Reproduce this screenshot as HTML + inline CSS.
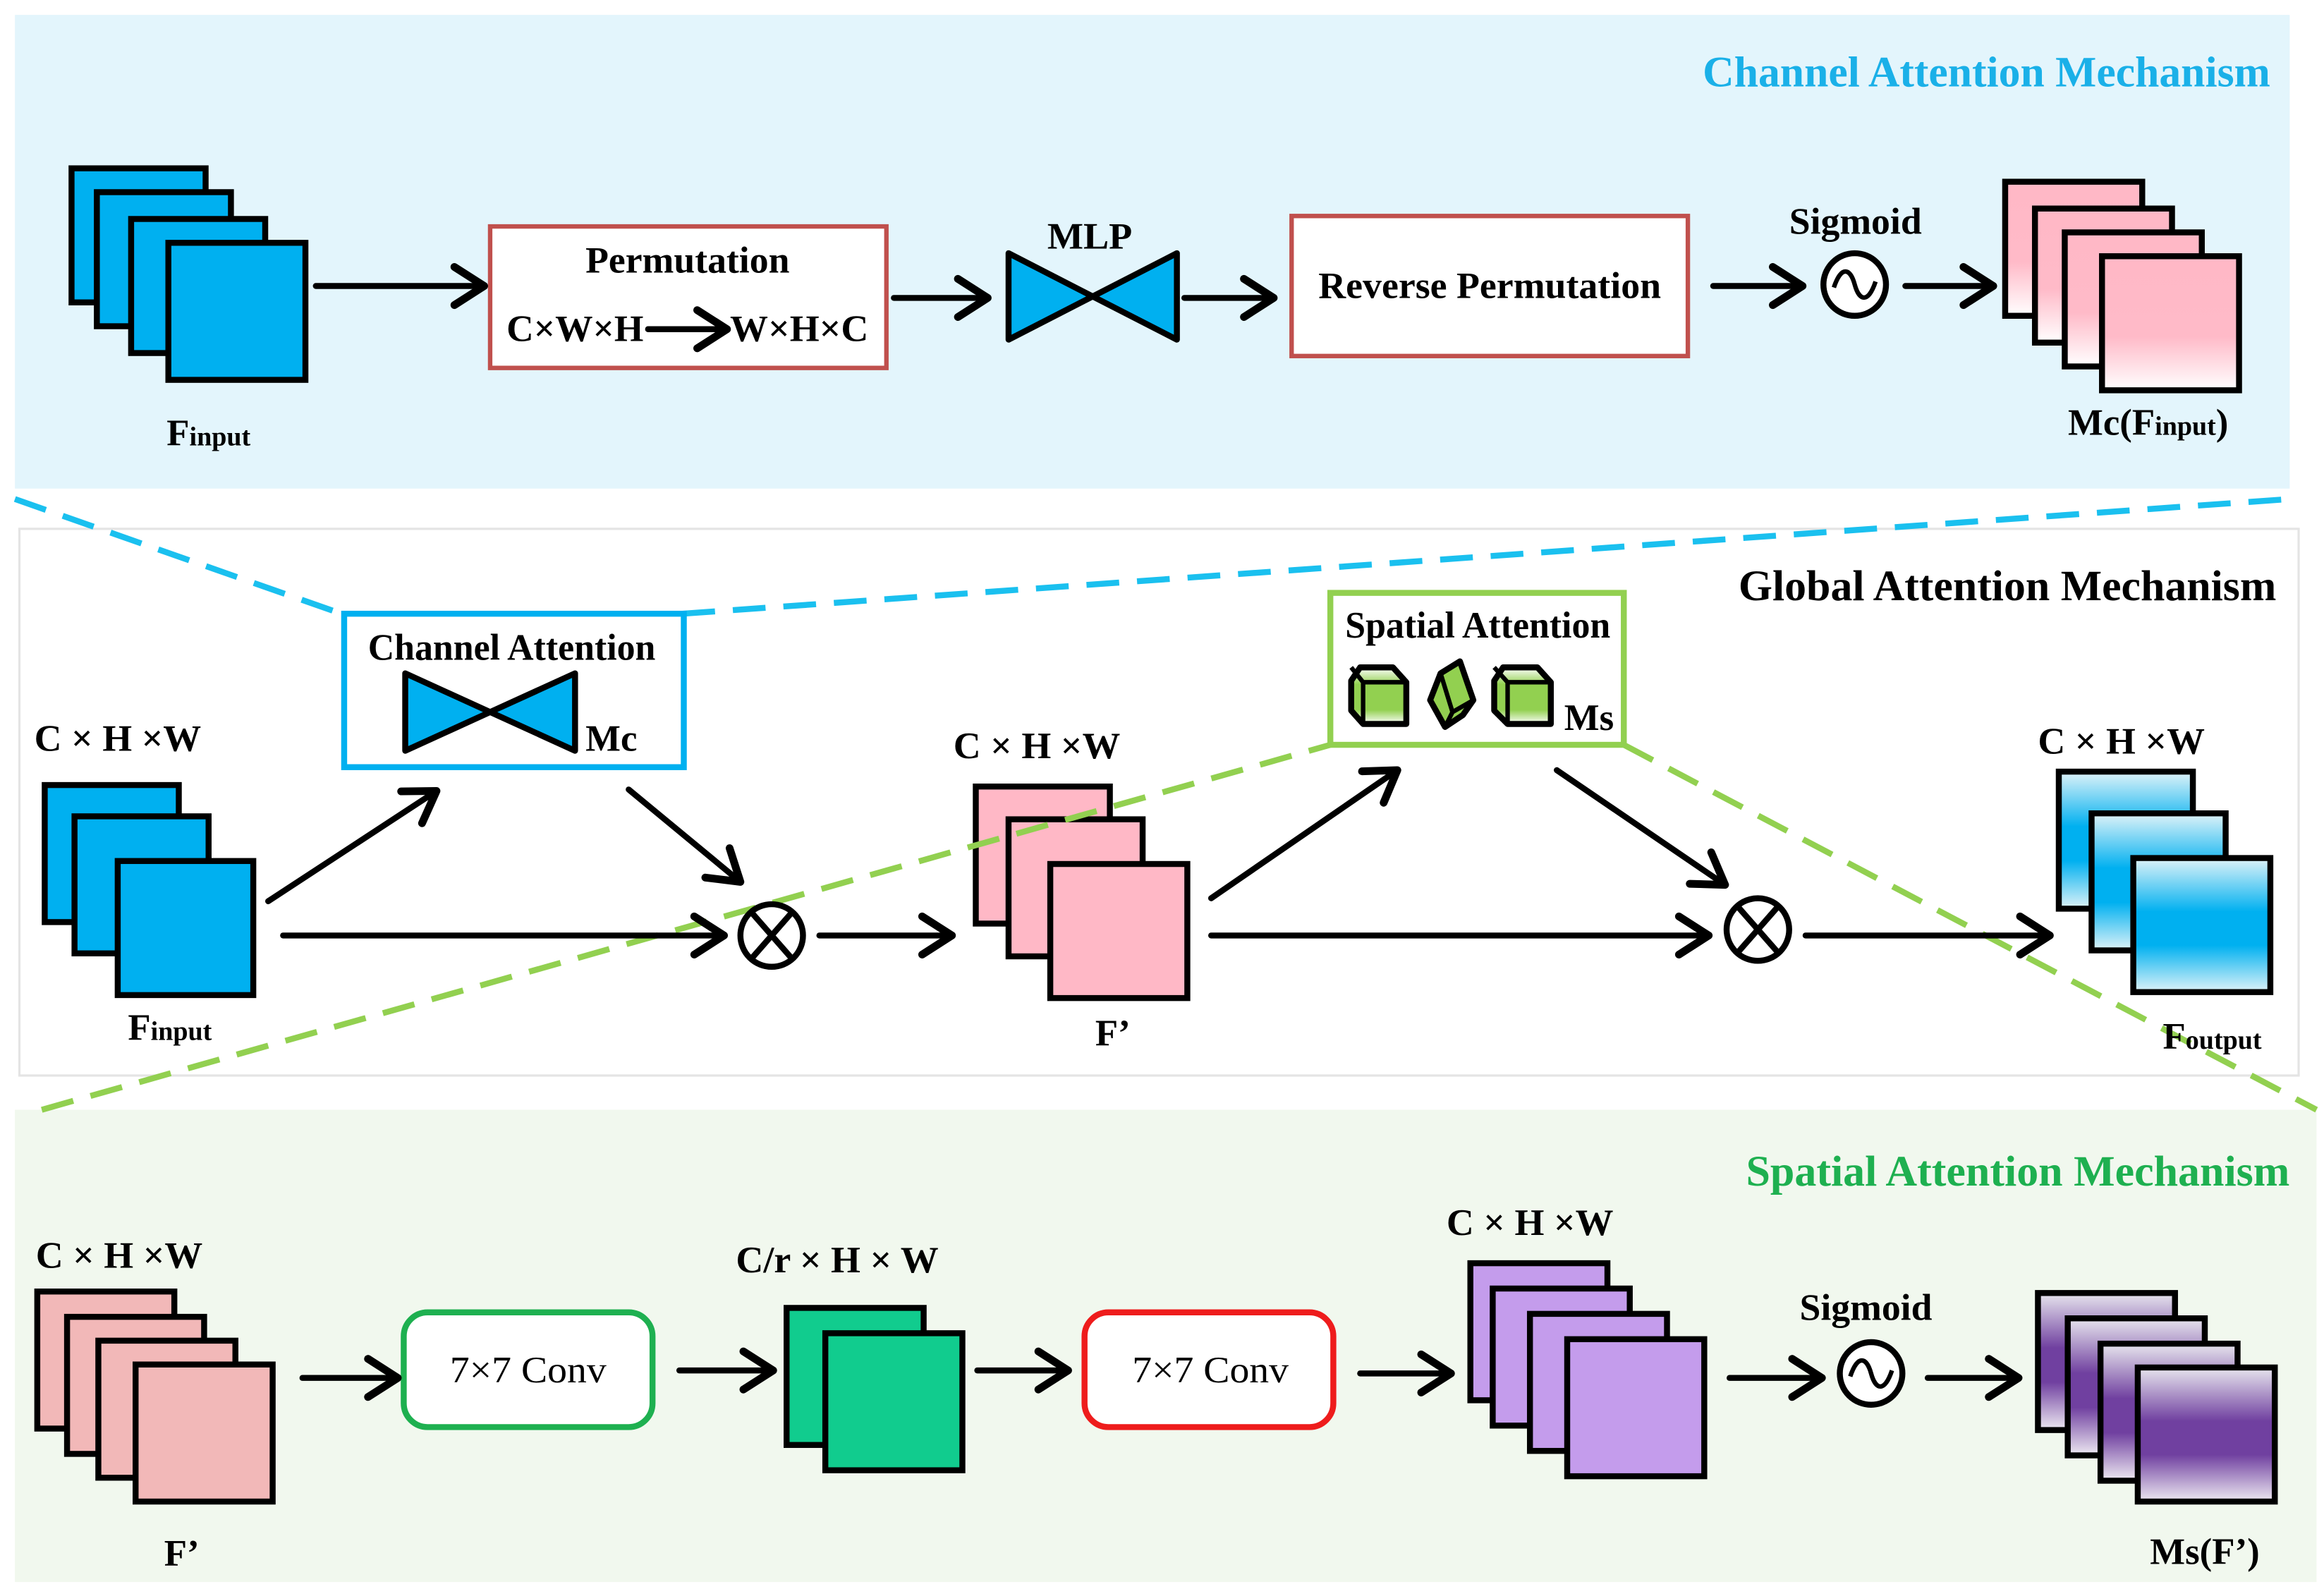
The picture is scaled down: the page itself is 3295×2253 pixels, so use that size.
<!DOCTYPE html>
<html><head><meta charset="utf-8"><style>html,body{margin:0;padding:0;background:#fff}svg{display:block}text{font-family:"Liberation Serif",serif;font-weight:bold;fill:#000}</style></head><body>
<svg width="3295" height="2253" viewBox="0 0 1560 1066.7" xmlns="http://www.w3.org/2000/svg">
<defs>
<marker id="ah" markerWidth="8" markerHeight="8" refX="6" refY="4" orient="auto" markerUnits="strokeWidth"><path d="M1,0.8 L6,4 L1,7.2" fill="none" stroke="#000" stroke-width="1.3" stroke-linecap="round" stroke-linejoin="round"/></marker>
<linearGradient id="pk" x1="0" y1="0" x2="0" y2="1"><stop offset="0" stop-color="#ffb8c6"/><stop offset="0.6" stop-color="#ffbac8"/><stop offset="1" stop-color="#fff"/></linearGradient>
<linearGradient id="bl" x1="0" y1="0" x2="0" y2="1"><stop offset="0" stop-color="#e0f3f8"/><stop offset="0.4" stop-color="#00b0f0"/><stop offset="0.65" stop-color="#00b0f0"/><stop offset="1" stop-color="#e0f3f8"/></linearGradient>
<linearGradient id="pu" x1="0" y1="0" x2="0" y2="1"><stop offset="0" stop-color="#e8e6ee"/><stop offset="0.4" stop-color="#7040a0"/><stop offset="0.65" stop-color="#7040a0"/><stop offset="1" stop-color="#eeeaf2"/></linearGradient>
<linearGradient id="gr" x1="0" y1="0" x2="0" y2="1"><stop offset="0" stop-color="#fff"/><stop offset="0.3" stop-color="#92d050"/><stop offset="0.75" stop-color="#92d050"/><stop offset="1" stop-color="#fff"/></linearGradient>
</defs>
<rect x="10" y="10" width="1527" height="318" fill="#e3f5fc"/>
<rect x="13" y="355" width="1530" height="367" fill="#fff" stroke="#e4e4e4" stroke-width="1.5"/>
<rect x="10" y="745" width="1545" height="317" fill="#f1f8ee"/>
<text x="1143" y="58" font-size="29" textLength="381" lengthAdjust="spacingAndGlyphs" style="fill:#1ab0e8">Channel Attention Mechanism</text>
<text x="1167" y="403" font-size="29" textLength="361" lengthAdjust="spacingAndGlyphs">Global Attention Mechanism</text>
<text x="1172" y="796" font-size="29" textLength="365" lengthAdjust="spacingAndGlyphs" style="fill:#1eb050">Spatial Attention Mechanism</text>

<g stroke="#000" stroke-width="4">
<rect x="48" y="113" width="90" height="90" fill="#00b0f0"/>
<rect x="65" y="129" width="90" height="90" fill="#00b0f0"/>
<rect x="88" y="147" width="90" height="90" fill="#00b0f0"/>
<rect x="113" y="163" width="92" height="92" fill="#00b0f0"/>
<rect x="1346" y="122" width="92" height="90" fill="url(#pk)"/>
<rect x="1366" y="140" width="92" height="90" fill="url(#pk)"/>
<rect x="1386" y="156" width="92" height="90" fill="url(#pk)"/>
<rect x="1411" y="172" width="92" height="90" fill="url(#pk)"/>
<rect x="30" y="527" width="90" height="92" fill="#00b0f0"/>
<rect x="50" y="548" width="90" height="92" fill="#00b0f0"/>
<rect x="79" y="578" width="91" height="90" fill="#00b0f0"/>
<rect x="655" y="528" width="90" height="92" fill="#ffb8c6"/>
<rect x="677" y="550" width="90" height="92" fill="#ffb8c6"/>
<rect x="705" y="580" width="92" height="90" fill="#ffb8c6"/>
<rect x="1382" y="518" width="90" height="92" fill="url(#bl)"/>
<rect x="1404" y="546" width="90" height="92" fill="url(#bl)"/>
<rect x="1432" y="576" width="92" height="90" fill="url(#bl)"/>
<rect x="25" y="867" width="92" height="92" fill="#f2b8b8"/>
<rect x="45" y="884" width="92" height="92" fill="#f2b8b8"/>
<rect x="66" y="900" width="92" height="92" fill="#f2b8b8"/>
<rect x="91" y="916" width="92" height="92" fill="#f2b8b8"/>
<rect x="528" y="878" width="92" height="92" fill="#11cc8e"/>
<rect x="554" y="895" width="92" height="92" fill="#11cc8e"/>
<rect x="987" y="848" width="92" height="92" fill="#c49cec"/>
<rect x="1002" y="865" width="92" height="92" fill="#c49cec"/>
<rect x="1027" y="882" width="92" height="92" fill="#c49cec"/>
<rect x="1052" y="899" width="92" height="92" fill="#c49cec"/>
<rect x="1368" y="868" width="92" height="92" fill="url(#pu)"/>
<rect x="1388" y="885" width="92" height="92" fill="url(#pu)"/>
<rect x="1410" y="902" width="92" height="92" fill="url(#pu)"/>
<rect x="1435" y="918" width="92" height="90" fill="url(#pu)"/>
</g>

<rect x="329" y="152" width="266" height="95" fill="#fff" stroke="#c0504d" stroke-width="3"/>
<text x="393" y="183" font-size="25" textLength="137" lengthAdjust="spacingAndGlyphs">Permutation</text>
<text x="340" y="229" font-size="25" textLength="92" lengthAdjust="spacingAndGlyphs">C×W×H</text>
<text x="490" y="229" font-size="25" textLength="93" lengthAdjust="spacingAndGlyphs">W×H×C</text>
<rect x="867" y="145" width="266" height="94" fill="#fff" stroke="#c0504d" stroke-width="3"/>
<text x="885" y="200" font-size="25" textLength="230" lengthAdjust="spacingAndGlyphs">Reverse Permutation</text>
<text x="703" y="167" font-size="25" textLength="57" lengthAdjust="spacingAndGlyphs">MLP</text>
<path d="M677,170 L677,228 L790,170 L790,228 Z" fill="#00b0f0" stroke="#000" stroke-width="4" stroke-linejoin="round"/>
<text x="1201" y="157" font-size="25" textLength="89" lengthAdjust="spacingAndGlyphs">Sigmoid</text>
<circle cx="1245" cy="191" r="21" fill="#fff" stroke="#000" stroke-width="4"/>
<path d="M1231,193 C1236,178 1242,180 1245,191 C1248,202 1254,204 1259,189" fill="none" stroke="#000" stroke-width="3"/>
<text x="140" y="299" font-size="25" text-anchor="middle">F<tspan font-size="18">input</tspan></text>
<text x="1442" y="292" font-size="25" text-anchor="middle">Mc(F<tspan font-size="18">input</tspan>)</text>

<g fill="none" stroke-width="4" stroke-dasharray="22,12">
<path d="M10,335 L232,413" stroke="#1ac0ef"/>
<path d="M458,412 L1537,335" stroke="#1ac0ef"/>
<path d="M28,745 L893,500" stroke="#92d050"/>
<path d="M1090,500 L1555,745" stroke="#92d050"/>
</g>

<rect x="231" y="412" width="228" height="103" fill="#fff" stroke="#00b0f0" stroke-width="4"/>
<text x="247" y="443" font-size="25" textLength="193" lengthAdjust="spacingAndGlyphs">Channel Attention</text>
<path d="M272,452 L272,504 L386,452 L386,504 Z" fill="#00b0f0" stroke="#000" stroke-width="4" stroke-linejoin="round"/>
<text x="393" y="504" font-size="25">Mc</text>
<rect x="893" y="398" width="197" height="102" fill="#fff" stroke="#92d050" stroke-width="4"/>
<text x="903" y="428" font-size="25" textLength="178" lengthAdjust="spacingAndGlyphs">Spatial Attention</text>
<g stroke="#000" stroke-width="4" stroke-linejoin="round">
<path d="M907,457 L913,448 L935,448 L944,458 L944,486 L915,486 L907,477 Z" fill="url(#gr)"/>
<path d="M915,458 L944,458 M915,458 L907,448 M915,458 L915,486" fill="none" stroke-width="3"/>
<path d="M960,470 L967,452 L980,444 L989,470 L982,480 L970,488 Z" fill="#92d050"/>
<path d="M967,452 L975,478 L989,470 M975,478 L970,488" fill="none" stroke-width="3"/>
<path d="M1003,457 L1009,448 L1032,448 L1041,458 L1041,486 L1012,486 L1003,477 Z" fill="url(#gr)"/>
<path d="M1012,458 L1041,458 M1012,458 L1003,448 M1012,458 L1012,486" fill="none" stroke-width="3"/>
</g>
<text x="1050" y="490" font-size="25">Ms</text>
<text x="23" y="504" font-size="25" textLength="112" lengthAdjust="spacingAndGlyphs">C × H ×W</text>
<text x="640" y="509" font-size="25" textLength="112" lengthAdjust="spacingAndGlyphs">C × H ×W</text>
<text x="1368" y="506" font-size="25" textLength="112" lengthAdjust="spacingAndGlyphs">C × H ×W</text>
<text x="114" y="698" font-size="25" text-anchor="middle">F<tspan font-size="18">input</tspan></text>
<text x="747" y="702" font-size="25" text-anchor="middle">F’</text>
<text x="1485" y="704" font-size="25" text-anchor="middle">F<tspan font-size="18">output</tspan></text>
<g fill="#fff" stroke="#000" stroke-width="4">
<circle cx="518" cy="628" r="21"/><circle cx="1180" cy="624" r="21"/>
<circle cx="1256" cy="922" r="21"/>
</g>
<path d="M504,612 L532,644 M532,612 L504,644 M1166,608 L1194,640 M1194,608 L1166,640" stroke="#000" stroke-width="4"/>
<path d="M1242,924 C1247,909 1253,911 1256,922 C1259,933 1265,935 1270,920" fill="none" stroke="#000" stroke-width="3"/>

<rect x="271" y="881" width="167" height="77" rx="16" fill="#fff" stroke="#1eb050" stroke-width="4"/>
<text x="302" y="928" font-size="25" textLength="105" lengthAdjust="spacingAndGlyphs" style="font-weight:normal">7×7 Conv</text>
<rect x="728" y="881" width="167" height="77" rx="16" fill="#fff" stroke="#ee1c1c" stroke-width="4"/>
<text x="760" y="928" font-size="25" textLength="105" lengthAdjust="spacingAndGlyphs" style="font-weight:normal">7×7 Conv</text>
<text x="24" y="851" font-size="25" textLength="112" lengthAdjust="spacingAndGlyphs">C × H ×W</text>
<text x="494" y="854" font-size="25" textLength="136" lengthAdjust="spacingAndGlyphs">C/r × H × W</text>
<text x="971" y="829" font-size="25" textLength="112" lengthAdjust="spacingAndGlyphs">C × H ×W</text>
<text x="1208" y="886" font-size="25" textLength="89" lengthAdjust="spacingAndGlyphs">Sigmoid</text>
<text x="122" y="1051" font-size="25" text-anchor="middle">F’</text>
<text x="1480" y="1050" font-size="25" text-anchor="middle">Ms(F’)</text>

<g stroke="#000" stroke-width="4" fill="none" stroke-linecap="round" marker-end="url(#ah)">
<path d="M212,192 L325,192"/>
<path d="M435,221 L488,221"/>
<path d="M600,200 L663,200"/>
<path d="M795,200 L855,200"/>
<path d="M1150,192 L1210,192"/>
<path d="M1279,192 L1338,192"/>
<path d="M180,605 L293,531"/>
<path d="M190,628 L486,628"/>
<path d="M422,530 L497,592"/>
<path d="M550,628 L639,628"/>
<path d="M813,603 L938,517"/>
<path d="M813,628 L1147,628"/>
<path d="M1045,517 L1158,594"/>
<path d="M1212,628 L1376,628"/>
<path d="M203,925 L267,925"/>
<path d="M456,920 L519,920"/>
<path d="M656,920 L717,920"/>
<path d="M913,922 L974,922"/>
<path d="M1161,925 L1223,925"/>
<path d="M1294,925 L1355,925"/>
</g>
</svg>
</body></html>
